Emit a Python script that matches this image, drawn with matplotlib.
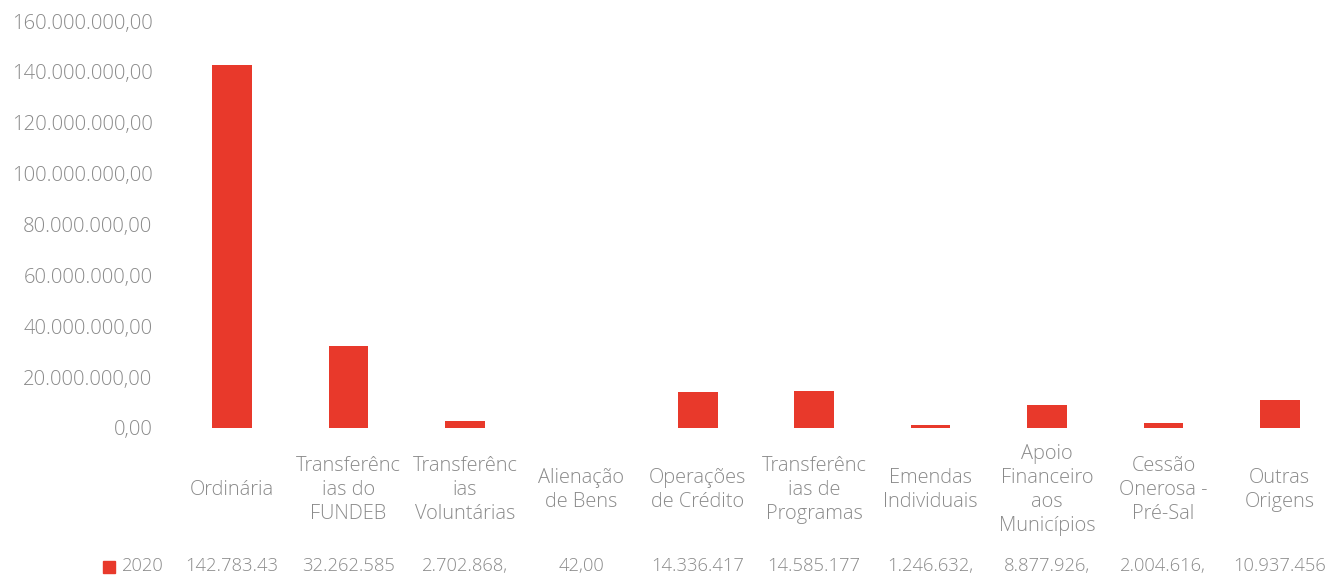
import matplotlib
matplotlib.use("Agg")
import matplotlib.pyplot as plt
from matplotlib.ticker import FuncFormatter
import matplotlib.patches as mpatches

categories = ["Ordinária", "Transferênc\nias do\nFUNDEB", "Transferênc\nias\nVoluntárias",
              "Alienação\nde Bens", "Operações\nde Crédito", "Transferênc\nias de\nProgramas",
              "Emendas\nIndividuais", "Apoio\nFinanceiro\naos\nMunicípios", "Cessão\nOnerosa -\nPré-Sal",
              "Outras\nOrigens"]
values_2020 = [142783430.00, 32262585.00, 2702868.00, 42.00, 14336417.00, 14585177.00,
               1246632.00, 8877926.00, 2004616.00, 10937456.00]
table_labels = ["142.783.43", "32.262.585", "2.702.868,", "42,00", "14.336.417", "14.585.177",
                "1.246.632,", "8.877.926,", "2.004.616,", "10.937.456"]
series_name = "2020"
yticks = [0, 20e6, 40e6, 60e6, 80e6, 100e6, 120e6, 140e6, 160e6]

BAR = "#E8392B"
TXT = "#8a8a8a"
FONT = ["Open Sans", "DejaVu Sans"]

W, H = 1332, 582
fig = plt.figure(figsize=(W/100, H/100), dpi=100)
left = 174 / W
ax = fig.add_axes([left, 1 - 428/H, (1338 - 174)/W, (428 - 21)/H])

x = list(range(len(categories)))
ax.bar(x, values_2020, width=0.34, color=BAR, zorder=2)
ax.set_xlim(-0.5, 9.5)
ax.set_ylim(0, 160e6)
ax.set_yticks(yticks)
ax.yaxis.set_major_formatter(FuncFormatter(
    lambda v, p: f"{v:,.2f}".replace(",", "X").replace(".", ",").replace("X", ".")))
for s in ax.spines.values():
    s.set_visible(False)
ax.tick_params(axis="y", length=0, pad=15.5, labelcolor=TXT, labelsize=14.6)
ax.tick_params(axis="x", length=0, labelbottom=False)
for lab in ax.get_yticklabels():
    lab.set_fontfamily(FONT)
    lab.set_fontweight("light")

# category labels and data table row
for xi, cat, tl in zip(x, categories, table_labels):
    ax.annotate(cat, xy=(xi, 0), xycoords=("data", "axes fraction"),
                xytext=(0, -62/1.389), textcoords="offset points", ha="center", va="center",
                multialignment="center",
                fontsize=14.4, color=TXT, family=FONT, fontweight="light", linespacing=1.27)
    ax.annotate(tl, xy=(xi, 0), xycoords=("data", "axes fraction"),
                xytext=(0, -138/1.389), textcoords="offset points", ha="center", va="center",
                fontsize=13.2, color=TXT, family=FONT, fontweight="light")

# legend key in table row
fig.patches.append(mpatches.Rectangle((103/W, 1 - 573/H), 12/W, 12/H,
                                      transform=fig.transFigure, color=BAR))
fig.text(122/W, 1 - 566/H, series_name, ha="left", va="center", fontsize=13.2,
         color=TXT, family=FONT, fontweight="light")

fig.savefig("out.png", dpi=100, facecolor="white")
